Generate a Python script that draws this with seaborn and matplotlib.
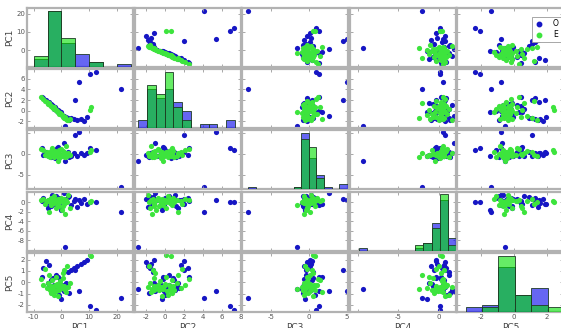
import numpy as np
import pandas as pd
import seaborn as sns
import matplotlib.pyplot as plt
from matplotlib.lines import Line2D

# group O (blue) scores on the first five principal components
blue_pc1 = [21.5, 12.3, 10.4, 6.3, 4.8, 1.3, 3.6, 4.6, 5.7, 6.9, 8.0, 9.3, -6.6, -5.4, -4.5, -0.2,
            -7.1, -4.8, -4.3, -3.9, -3.6, -3.2, -2.9, -2.6, -2.3, -2.0, -1.8, -1.5, -1.3, -1.0,
            -0.8, -0.6, -0.4, -3.4, -2.2, -1.1, 0.3, 0.8, 1.5, 2.2, 2.7]
blue_pc2 = [4.1, 7.3, 6.9, 5.4, 2.0, -2.8, -1.3, -1.6, -1.8, -1.5, -2.0, -1.1, 2.4, 2.0, 1.7, -0.3,
            2.6, 1.4, 1.5, 1.0, 1.2, 0.7, 0.9, 0.4, 0.6, 0.2, 0.4, -0.1, 0.2, -0.3,
            0.0, -0.5, -0.2, 1.1, 0.3, -0.2, -0.8, -1.0, -1.2, -1.3, -1.7]
blue_pc3 = [-8.0, 1.0, 1.4, 5.1, 4.5, -1.6, -0.4, 0.2, -0.6, 0.3, -0.2, 0.1, -0.2, 0.4, 0.1, -0.5,
            1.4, -0.3, -0.6, 0.4, -0.8, -0.2, 0.6, -0.5, -0.9, 0.2, -0.4, 1.3, -0.1, -0.7,
            0.8, -0.3, -0.6, 0.3, -0.2, 1.7, -0.5, 2.6, -0.4, 0.5, -0.8]
blue_pc4 = [-2.1, 0.1, 0.2, 0.5, 0.8, -9.4, -0.6, 0.4, -1.0, -0.2, 0.8, -0.4, 0.9, -0.3, 0.6, -1.5,
            0.3, -1.2, 0.5, 0.7, -0.7, 0.2, -0.4, 0.9, -0.1, 0.4, 1.3, -0.5, 0.6, 0.0,
            1.0, -0.8, 0.3, 1.6, 0.8, -0.3, 0.5, 1.9, 0.7, 1.2, 1.4]
blue_pc5 = [-1.4, -2.4, -2.1, -0.8, 1.1, -0.55, 1.1, 1.3, 1.45, 1.6, 1.75, 1.95, 1.3, 1.85, 1.5, -1.45,
            0.45, -0.1, -0.5, 0.2, -0.3, -0.7, 0.4, -0.2, -0.6, -0.4, 0.6, -0.8, -0.35, -0.55,
            -1.1, -0.15, 0.3, -0.65, -0.45, 0.5, -0.25, -0.75, -0.05, 0.9, -0.9]

# group E (green)
green_pc1 = [10.3, 10.6, -7.3, -6.6, -5.9, -5.3, -4.8, -4.5, -4.2, -3.9, -3.7, -3.4, -3.1, -2.9,
             -2.6, -2.4, -2.1, -1.9, -1.7, -1.4, -1.2, -0.9, -0.7, -0.5, -0.3, -2.7, -1.5,
             0.2, 0.5, 0.8, 1.1, 1.4, 1.7, 2.0, 2.3, 0.6, 1.2, 3.1]
green_pc2 = [0.1, 0.6, 2.5, 2.1, 1.8, 1.7, 1.3, 1.4, 1.0, 0.9, 0.8, 0.7, 0.6, 0.5,
             0.3, 0.4, 0.1, 0.2, -0.1, -0.2, -0.3, -0.4, -0.6, -0.5, -0.7, 0.6, 0.0,
             -0.9, -1.0, -1.1, -1.3, -1.4, -1.5, -1.7, -1.8, -1.1, -1.2, -1.6]
green_pc3 = [0.5, 0.8, 1.2, 0.9, -0.3, 0.4, -0.6, 0.2, -0.8, 0.6, -0.1, 1.5, -0.4, 0.3,
             -0.7, 0.7, -0.2, 0.1, -0.5, -1.6, 0.5, -0.9, 0.8, -0.3, 1.1, -0.6, 0.2,
             -0.4, 0.6, -0.2, 0.4, -0.7, 1.8, -0.5, 0.3, -0.1, -0.8, -0.3]
green_pc4 = [0.2, 0.4, 0.5, 0.8, -0.4, 0.3, 0.6, -2.1, 0.2, 0.9, -0.6, 0.4, 0.7, -0.2,
             1.3, 0.5, -1.2, 0.3, 0.6, -0.5, 0.8, 0.2, -0.8, 0.4, 1.0, -0.1, 0.6,
             -1.5, 0.3, -0.3, 0.7, -2.4, 0.5, 0.0, 1.6, -0.7, 0.2, -1.1]
green_pc5 = [2.45, 2.35, 0.3, -0.2, 1.2, -0.5, -0.1, 0.6, -0.7, -0.3, -0.9, 0.2, -0.4, -0.6,
             -1.1, -0.2, 0.5, -0.8, -0.35, -0.55, -1.2, -0.45, -0.65, 0.1, -0.25, -0.75, -0.15,
             -0.5, 0.8, -0.3, 1.1, -0.6, -0.85, 1.4, -0.4, 0.4, -0.7, -0.1]

names = ["PC1", "PC2", "PC3", "PC4", "PC5"]
blue = pd.DataFrame(dict(zip(names, [blue_pc1, blue_pc2, blue_pc3, blue_pc4, blue_pc5])))
green = pd.DataFrame(dict(zip(names, [green_pc1, green_pc2, green_pc3, green_pc4, green_pc5])))

# axis limits (x for columns, y for rows) and ticks
xlims = {"PC1": (-12.4, 25.8), "PC2": (-3.2, 7.9), "PC3": (-8.8, 5.2),
         "PC4": (-11.0, 2.1), "PC5": (-3.45, 3.0)}
ylims = {"PC1": (-9.2, 23.1), "PC2": (-3.3, 7.8), "PC3": (-8.5, 5.6),
         "PC4": (-10.2, 2.3), "PC5": (-2.6, 2.6)}
xticks = {"PC1": ([-10, 0, 10, 20], ["-10", "0", "10", "20"]),
          "PC2": ([-2, 0, 2, 4, 6, 8], ["-2", "0", "2", "4", "6", "8"]),
          "PC3": ([-5, 0, 5], ["-5", "0", "5"]),
          "PC4": ([-10, -5, 0], ["", "-5", "0"]),
          "PC5": ([-2, 0, 2], ["-2", "0", "2"])}
yticks = {"PC1": ([0, 10, 20], ["0", "10", "20"]),
          "PC2": ([-2, 0, 2, 4, 6], ["-2", "0", "2", "4", "6"]),
          "PC3": ([-5, 0, 5], ["-5", "0", ""]),
          "PC4": ([-8, -6, -4, -2, 0], ["-8", "-6", "-4", "-2", "0"]),
          "PC5": ([-2, -1, 0, 1, 2], ["-2", "-1", "0", "1", "2"])}
bins = {"PC1": [-10, -5, 0, 5, 10, 15, 20, 25],
        "PC2": [-2.8, -1.87, -0.95, -0.02, 0.91, 1.84, 2.76, 3.69, 4.62, 5.55, 6.47, 7.4],
        "PC3": [-8, -7, -6, -5, -4, -3, -2, -1, 0, 1, 2, 3, 4, 5.2],
        "PC4": [-9.9, -8.9, -7.9, -6.9, -5.9, -4.9, -3.9, -2.9, -1.9, -0.9, 0.1, 1.1, 2.1],
        "PC5": [-2.95, -1.95, -0.95, 0.05, 1.05, 2.05, 3.05]}

dot_blue = "#1616c4"
dot_green = "#3de43d"
hist_blue = (0.0, 0.0, 0.92)
hist_green = (0.0, 0.88, 0.0)
frame = "#b2b2b2"

W, H = 561, 328
fig = plt.figure(figsize=(W / 100, H / 100), dpi=100)

left0, pitch_x, pw = 27, 107.6, 106.0
top0, pitch_y, ph = 8, 61.2, 59.0

axes = [[None] * 5 for _ in range(5)]
for i, yv in enumerate(names):
    for j, xv in enumerate(names):
        x0 = left0 + j * pitch_x
        y0 = top0 + i * pitch_y
        ax = fig.add_axes([x0 / W, 1 - (y0 + ph) / H, pw / W, ph / H])
        axes[i][j] = ax
        if i == j:
            ax.set_xlim(*xlims[xv])
            ax.set_ylim(*ylims[yv])
            hax = ax.twinx()
            sns.histplot(x=blue[xv], bins=bins[xv], color=hist_blue, alpha=0.6,
                         edgecolor="#1e3a26", linewidth=0.6, ax=hax)
            sns.histplot(x=green[xv], bins=bins[xv], color=hist_green, alpha=0.6,
                         edgecolor="#1e3a26", linewidth=0.6, ax=hax)
            top = max(np.histogram(blue[xv], bins[xv])[0].max(),
                      np.histogram(green[xv], bins[xv])[0].max())
            hax.set_ylim(0, top * 1.05)
            hax.set_xlim(*xlims[xv])
            hax.axis("off")
        else:
            sns.scatterplot(data=blue, x=xv, y=yv, ax=ax, color=dot_blue, s=14,
                            linewidth=0, legend=False)
            sns.scatterplot(data=green, x=xv, y=yv, ax=ax, color=dot_green, s=14,
                            linewidth=0, legend=False)
            ax.set_xlim(*xlims[xv])
            ax.set_ylim(*ylims[yv])
        ax.set_xlabel("")
        ax.set_ylabel("")
        ax.set_xticks(xticks[xv][0])
        ax.set_yticks(yticks[yv][0])
        if i == 4:
            ax.set_xticklabels(xticks[xv][1])
        else:
            ax.set_xticklabels([])
        if j == 0:
            ax.set_yticklabels(yticks[yv][1])
        else:
            ax.set_yticklabels([])
        ax.tick_params(direction="in", top=True, right=True, length=2.5, width=0.6,
                       color="#9a9a9a", labelsize=5, labelcolor="#555555", pad=1.5)
        for sp in ax.spines.values():
            sp.set_color(frame)
            sp.set_linewidth(1.6)

# row and column labels (the bottom ones are half outside the picture, as in the source)
for i, nm in enumerate(names):
    yc = top0 + i * pitch_y + ph / 2
    fig.text(10 / W, 1 - yc / H, nm, rotation=90, ha="center", va="center",
             fontsize=6.5, color="#444444")
    xc = left0 + i * pitch_x + pw / 2
    fig.text(xc / W, 1 - 323.5 / H, nm, ha="center", va="top", fontsize=6.5, color="#444444")

# legend in the top-right panel
handles = [Line2D([], [], marker="o", linestyle="", color=dot_blue, markersize=3.2),
           Line2D([], [], marker="o", linestyle="", color=dot_green, markersize=3.2)]
lg = axes[0][4].legend(handles, ["O", "E"], loc="upper left",
                       bbox_to_anchor=((528 - 457.4) / pw, (67 - 13) / ph),
                       fontsize=5.5, frameon=True, fancybox=False, framealpha=1,
                       edgecolor="#999999", handlelength=1.2, handletextpad=1.2,
                       borderpad=0.35, labelspacing=0.25)
lg.get_frame().set_linewidth(0.6)

fig.savefig("out.png", dpi=100)
